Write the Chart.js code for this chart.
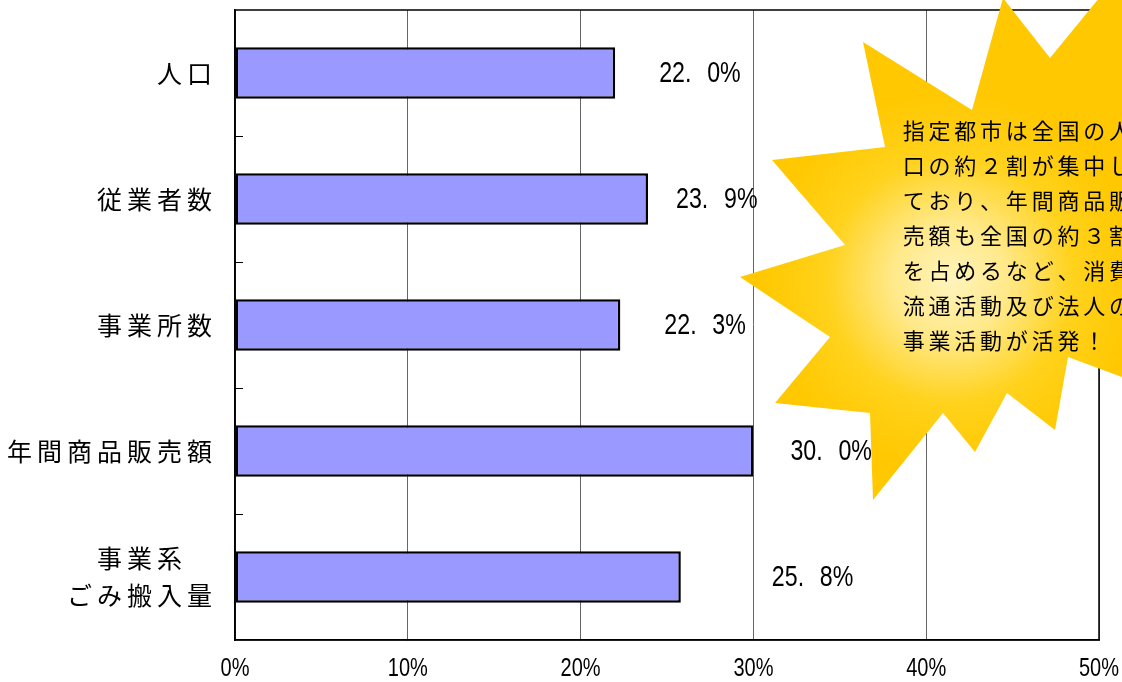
<!DOCTYPE html>
<html>
<head>
<meta charset="utf-8">
<script src="https://cdn.jsdelivr.net/npm/chart.js@4.4.0/dist/chart.umd.min.js"></script>
<style>
  html, body { margin: 0; padding: 0; background: #fff; }
  #wrap { width: 1122px; height: 682px; }
</style>
</head>
<body>
<div id="wrap"><canvas id="shareChart" width="1122" height="682"></canvas></div>
<script>
// data
var categories = [["人口"], ["従業者数"], ["事業所数"], ["年間商品販売額"], ["事業系", "ごみ搬入量"]];
var shares = [22.0, 23.9, 22.3, 30.0, 25.8];
var tickValues = [0, 10, 20, 30, 40, 50];
var noteLines = [
    "指定都市は全国の人",
    "口の約２割が集中し",
    "ており、年間商品販",
    "売額も全国の約３割",
    "を占めるなど、消費",
    "流通活動及び法人の",
    "事業活動が活発！"
];

// gap between bar end and its value label (as placed in the original)
var labelGaps = [44, 28, 44, 37, 91];

var CJK = "'Noto Sans CJK JP', 'Noto Sans', sans-serif";
var LATIN = "'Liberation Sans', Arial, sans-serif";
var SQUEEZE = 0.8;   // the original uses a narrow gothic for figures

// draw a string one glyph per fixed-width cell (glyph centred in cell)
function drawCells(ctx, text, xLeft, y, advance) {
    var chars = Array.from(text);
    ctx.textAlign = 'center';
    ctx.textBaseline = 'middle';
    for (var i = 0; i < chars.length; i++) {
        ctx.fillText(chars[i], xLeft + advance / 2 + i * advance, y);
    }
}

// narrow figures: squeeze horizontally around the anchor point
function drawNarrow(ctx, text, x, y, align) {
    ctx.save();
    ctx.translate(x, y);
    ctx.scale(SQUEEZE, 1);
    ctx.textAlign = align;
    ctx.textBaseline = 'middle';
    ctx.fillText(text, 0, 0);
    ctx.restore();
}

// black frame round the plot area + little ticks on the category axis
var framePlugin = {
    id: 'frame',
    afterDatasetsDraw: function(chart) {
        var ctx = chart.ctx;
        var a = chart.chartArea;
        var yScale = chart.scales.y;
        ctx.save();
        ctx.strokeStyle = '#000';
        ctx.lineWidth = 1.5;
        ctx.strokeRect(a.left, a.top, a.right - a.left, a.bottom - a.top);
        ctx.lineWidth = 1;
        for (var i = 0; i < categories.length - 1; i++) {
            var y = Math.round((yScale.getPixelForValue(i) + yScale.getPixelForValue(i + 1)) / 2) + 0.5;
            ctx.beginPath();
            ctx.moveTo(a.left, y);
            ctx.lineTo(a.left + 8, y);
            ctx.stroke();
        }
        ctx.restore();
    }
};

// category names, right-aligned block, lines centred in it
var categoryLabelPlugin = {
    id: 'catLabels',
    afterDraw: function(chart) {
        var ctx = chart.ctx;
        var yScale = chart.scales.y;
        var adv = 30, glyph = 25, rightEdge = 212, lineH = 37;
        ctx.save();
        ctx.fillStyle = '#000';
        ctx.font = '25px ' + CJK;
        for (var i = 0; i < categories.length; i++) {
            var lines = categories[i];
            var yc = yScale.getPixelForValue(i);
            var widest = 0;
            lines.forEach(function(l) {
                var w = (Array.from(l).length - 1) * adv + glyph;
                if (w > widest) widest = w;
            });
            var blockCenter = rightEdge - widest / 2;
            for (var k = 0; k < lines.length; k++) {
                var n = Array.from(lines[k]).length;
                var w = (n - 1) * adv + glyph;
                var y = yc + (k - (lines.length - 1) / 2) * lineH;
                drawCells(ctx, lines[k], blockCenter - w / 2 - (adv - glyph) / 2, y, adv);
            }
        }
        ctx.restore();
    }
};

// percentage labels on the value axis
var valueTickPlugin = {
    id: 'valueTicks',
    afterDraw: function(chart) {
        var ctx = chart.ctx;
        var xScale = chart.scales.x;
        ctx.save();
        ctx.fillStyle = '#000';
        ctx.font = '25px ' + LATIN;
        tickValues.forEach(function(v) {
            drawNarrow(ctx, v + '%', xScale.getPixelForValue(v), xScale.top + 29, 'center');
        });
        ctx.restore();
    }
};

// value labels to the right of the bars, "22. 0%" style
var valueLabelPlugin = {
    id: 'valueLabels',
    afterDatasetsDraw: function(chart) {
        var ctx = chart.ctx;
        var meta = chart.getDatasetMeta(0);
        ctx.save();
        ctx.fillStyle = '#000';
        ctx.font = '29px ' + LATIN;
        meta.data.forEach(function(bar, i) {
            var txt = shares[i].toFixed(1) + '%';
            var parts = txt.split('.');
            var x0 = bar.x + labelGaps[i];
            var y = bar.y + 1;
            drawNarrow(ctx, parts[0] + '.', x0, y, 'left');
            drawNarrow(ctx, parts[1], x0 + 48, y, 'left');
        });
        ctx.restore();
    }
};

// the yellow burst with the comment, drawn over the chart
var burstPlugin = {
    id: 'burst',
    afterDraw: function(chart) {
        var ctx = chart.ctx;
        var pts = [
            [740, 277], [845, 245], [772, 160], [885, 147], [863, 42], [972, 110],
            [1003, -2], [1050, 58], [1118, -25], [1160, 110], [1270, 120], [1180, 230],
            [1290, 310], [1190, 402], [1068, 357], [1055, 430], [1007, 393], [975, 452],
            [943, 413], [873, 500], [870, 413], [775, 403], [830, 337]
        ];
        ctx.save();
        var g = ctx.createRadialGradient(950, 280, 0, 950, 280, 190);
        g.addColorStop(0, '#FFF4BC');
        g.addColorStop(0.3, '#FFE98A');
        g.addColorStop(0.65, '#FFD21C');
        g.addColorStop(1, '#FFC800');
        ctx.fillStyle = g;
        ctx.beginPath();
        ctx.moveTo(pts[0][0], pts[0][1]);
        for (var i = 1; i < pts.length; i++) ctx.lineTo(pts[i][0], pts[i][1]);
        ctx.closePath();
        ctx.fill();

        ctx.fillStyle = '#000';
        ctx.font = '22px ' + CJK;
        for (var k = 0; k < noteLines.length; k++) {
            drawCells(ctx, noteLines[k], 901, 131 + k * 35, 25.75);
        }
        ctx.restore();
    }
};

function renderChart() {
    var ctx = document.getElementById('shareChart').getContext('2d');
    var chart = new Chart(ctx, {
        type: 'bar',
        data: {
            labels: categories,
            datasets: [{
                data: shares,
                backgroundColor: '#9999FF',
                borderColor: '#000',
                borderWidth: 2.5,
                borderSkipped: false,
                barPercentage: 0.41,
                categoryPercentage: 1
            }]
        },
        options: {
            indexAxis: 'y',
            responsive: false,
            animation: false,
            devicePixelRatio: 1,
            layout: {
                padding: { top: 10, right: 23, bottom: 0, left: 0 }
            },
            plugins: {
                legend: { display: false },
                tooltip: { enabled: false }
            },
            scales: {
                x: {
                    min: 0,
                    max: 50,
                    afterBuildTicks: function(scale) {
                        scale.ticks = tickValues.map(function(v) { return { value: v }; });
                    },
                    afterFit: function(scale) {
                        scale.height = 42;
                        scale.paddingLeft = 0;
                        scale.paddingRight = 0;
                    },
                    ticks: { display: false },
                    grid: { color: '#666', lineWidth: 1, tickLength: 0 },
                    border: { color: '#000', width: 1.5 }
                },
                y: {
                    afterFit: function(scale) {
                        scale.width = 235;
                        scale.paddingTop = 0;
                        scale.paddingBottom = 0;
                    },
                    ticks: { display: false },
                    grid: { display: false },
                    border: { color: '#000', width: 1.5 }
                }
            }
        },
        plugins: [framePlugin, valueLabelPlugin, categoryLabelPlugin, valueTickPlugin, burstPlugin]
    });
}

renderChart();
</script>
</body>
</html>
